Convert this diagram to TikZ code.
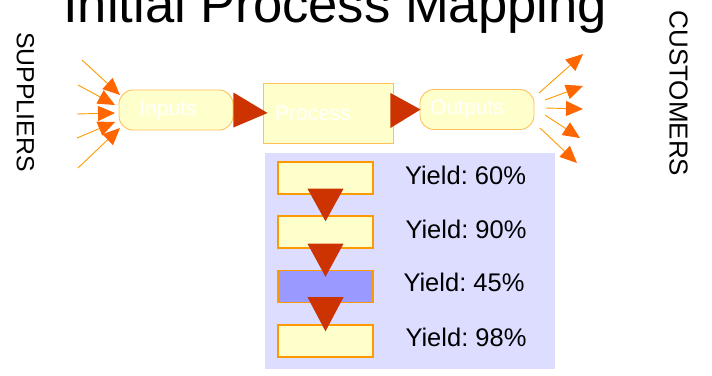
\documentclass[tikz,border=0pt]{standalone}
\usepackage{fontspec}
\setmainfont{Liberation Sans}
\frenchspacing
\usetikzlibrary{arrows.meta,calc}
\definecolor{lyellow}{HTML}{FFFFCC}
\definecolor{lborder}{HTML}{FFC05A}
\definecolor{sborder}{HTML}{FF9900}
\definecolor{redtri}{HTML}{CC3300}
\definecolor{arrline}{HTML}{FF9900}
\definecolor{arrhead}{HTML}{FF6600}
\definecolor{lavender}{HTML}{DDDDFF}
\definecolor{purp}{HTML}{9999FF}
\tikzset{
  flowbox/.style={draw=lborder, fill=lyellow, line width=0.9pt, text=white, inner sep=0pt,
    font=\fontsize{21}{24}\selectfont},
  roundbox/.style={flowbox, rounded corners=14pt, minimum width=114pt, minimum height=40pt},
  stagebox/.style={draw=sborder, fill=lyellow, line width=1.4pt, minimum width=95pt, minimum height=32pt, inner sep=0pt},
  yieldtext/.style={font=\fontsize{25.5}{28}\selectfont, inner sep=0pt},
  sidetext/.style={rotate=-90, inner sep=0pt},
  fanarrow/.style={draw=arrline, line width=0.9pt, -{Triangle[length=17pt,width=15pt,color=arrhead]}},
  redarrow/.style={fill=redtri, draw=none}
}
\begin{document}
\begin{tikzpicture}[x=1pt,y=-1pt]
\useasboundingbox (0,0) rectangle (712,375);
\clip (0,0) rectangle (712,375);

% title
\node[anchor=base west, inner sep=0pt, font=\fontsize{52.6}{60}\selectfont] (title) at (63,22) {Initial Process Mapping};

% side labels
\node[sidetext, font=\fontsize{24.8}{28}\selectfont] (sup) at (25.5,102) {SUPPLIERS};
\node[sidetext, font=\fontsize{26}{30}\selectfont] (cus) at (678.5,93.5) {CUSTOMERS};

% main flow
\node[roundbox] (inp) at (176,110) {Inputs\hspace*{16pt}};
\node[flowbox, minimum width=130pt, minimum height=60pt] (proc) at (328,113) {Process\hspace*{30pt}};
\node[roundbox] (outp) at (477,109.5) {Outputs\hspace*{20pt}};

\fill[redarrow] ($(inp.east)+(0,-17.5)$) -- ($(inp.east)+(0,17.5)$) -- ($(proc.west)+(5,0)$) -- cycle;
\fill[redarrow] ($(proc.east)+(-3,-20)$) -- ($(proc.east)+(-3,15)$) -- ($(outp.west)+(1,0)$) -- cycle;

% incoming arrows
\coordinate (i1) at (82,60);  \coordinate (t1) at (120,95);
\coordinate (i2) at (78,85);  \coordinate (t2) at (115,105);
\coordinate (i3) at (77,114); \coordinate (t3) at (115,113);
\coordinate (i4) at (77,138); \coordinate (t4) at (115,122);
\coordinate (i5) at (78,168); \coordinate (t5) at (120,128);
\foreach \k in {1,...,5} { \draw[fanarrow] (i\k) -- (t\k); }

% outgoing arrows
\coordinate (o1) at (539,93);  \coordinate (u1) at (583,54);
\coordinate (o2) at (545,100); \coordinate (u2) at (583,86);
\coordinate (o3) at (546,108); \coordinate (u3) at (583,109);
\coordinate (o4) at (545,115); \coordinate (u4) at (580,138);
\coordinate (o5) at (540,128); \coordinate (u5) at (577,163);
\foreach \k in {1,...,5} { \draw[fanarrow] (o\k) -- (u\k); }

% detail panel
\node[fill=lavender, minimum width=290pt, minimum height=216pt, inner sep=0pt] (panel) at (410,261) {};
\node[stagebox] (s1) at (325.5,178) {};
\node[stagebox] (s2) at (325.5,232) {};
\node[stagebox, fill=purp] (s3) at (325.5,286.5) {};
\node[stagebox] (s4) at (325.5,341) {};

\fill[redarrow] ($(s1.south)+(-18,-6)$) -- ($(s1.south)+(18,-6)$) -- ($(s2.north)+(0,6)$) -- cycle;
\fill[redarrow] ($(s2.south)+(-18,-5)$) -- ($(s2.south)+(18,-5)$) -- ($(s3.north)+(0,7)$) -- cycle;
\fill[redarrow] ($(s3.south)+(-18,-6)$) -- ($(s3.south)+(18,-6)$) -- ($(s4.north)+(0,7)$) -- cycle;

\node[yieldtext] (y1) at (465.5,175) {Yield: 60\%};
\node[yieldtext] (y2) at (466,229) {Yield: 90\%};
\node[yieldtext] (y3) at (464,282) {Yield: 45\%};
\node[yieldtext] (y4) at (466,337) {Yield: 98\%};
\end{tikzpicture}
\end{document}
